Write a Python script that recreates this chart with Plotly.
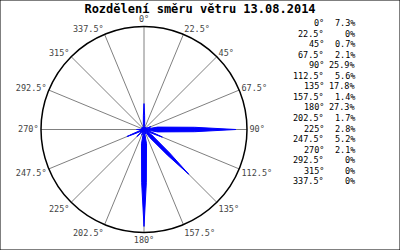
import plotly.graph_objects as go

title = "Rozdělení směru větru 13.08.2014"
directions = [0, 22.5, 45, 67.5, 90, 112.5, 135, 157.5, 180, 202.5, 225, 247.5, 270, 292.5, 315, 337.5]
dir_labels = ["0°", "22.5°", "45°", "67.5°", "90°", "112.5°", "135°", "157.5°", "180°", "202.5°",
              "225°", "247.5°", "270°", "292.5°", "315°", "337.5°"]
percent = [7.3, 0, 0.7, 2.1, 25.9, 5.6, 17.8, 1.4, 27.3, 1.7, 2.8, 5.2, 2.1, 0, 0, 0]
pct_labels = ["7.3%", "0%", "0.7%", "2.1%", "25.9%", "5.6%", "17.8%", "1.4%", "27.3%", "1.7%",
              "2.8%", "5.2%", "2.1%", "0%", "0%", "0%"]

# build spiky rose polygon from the values
theta, r = [], []
for d, p in zip(directions, percent):
    theta += [d - 11.25, d - 10, d - 2.5, d, d + 2.5, d + 10]
    r += [0.8, p * 0.15, p * 0.55, p, p * 0.55, p * 0.15]
theta.append(theta[0])
r.append(r[0])

fig = go.Figure()
fig.add_trace(go.Scatterpolar(
    r=r, theta=theta, mode="lines", fill="toself",
    fillcolor="#0000ff", line=dict(color="#0000ff", width=1),
    hoverinfo="skip", showlegend=False))

mono = "DejaVu Sans Mono"
fig.update_layout(
    width=400, height=250,
    margin=dict(l=0, r=0, t=0, b=0),
    paper_bgcolor="white", plot_bgcolor="white",
    title=dict(text="<b>" + title + "</b>", x=0.5, xanchor="center", y=0.966, yanchor="middle",
               font=dict(family=mono, size=12, color="black")),
    polar=dict(
        domain=dict(x=[0.1025, 0.6175], y=[0.07, 0.894]),
        bgcolor="white",
        radialaxis=dict(range=[0, 29], visible=False, showgrid=False),
        angularaxis=dict(
            direction="clockwise", rotation=90,
            tickmode="array", tickvals=directions, ticktext=dir_labels,
            showgrid=True, gridcolor="#808080", gridwidth=1,
            showline=True, linecolor="black", linewidth=1.5,
            ticks="", tickfont=dict(family=mono, size=8.5, color="#444444"),
        ),
    ),
    shapes=[dict(type="rect", xref="paper", yref="paper", x0=0, y0=0, x1=1, y1=1,
                 line=dict(color="black", width=1))],
)

row0 = 23
step = 10.55
for i, (dl, pl) in enumerate(zip(dir_labels, pct_labels)):
    yy = 1 - (row0 + i * step) / 250
    fig.add_annotation(x=326 / 400, y=yy, xref="paper", yref="paper", text=dl,
                       showarrow=False, xanchor="right", yanchor="middle",
                       font=dict(family=mono, size=8.5, color="black"))
    fig.add_annotation(x=357 / 400, y=yy, xref="paper", yref="paper", text=pl,
                       showarrow=False, xanchor="right", yanchor="middle",
                       font=dict(family=mono, size=8.5, color="black"))

fig.write_html("out.html")
